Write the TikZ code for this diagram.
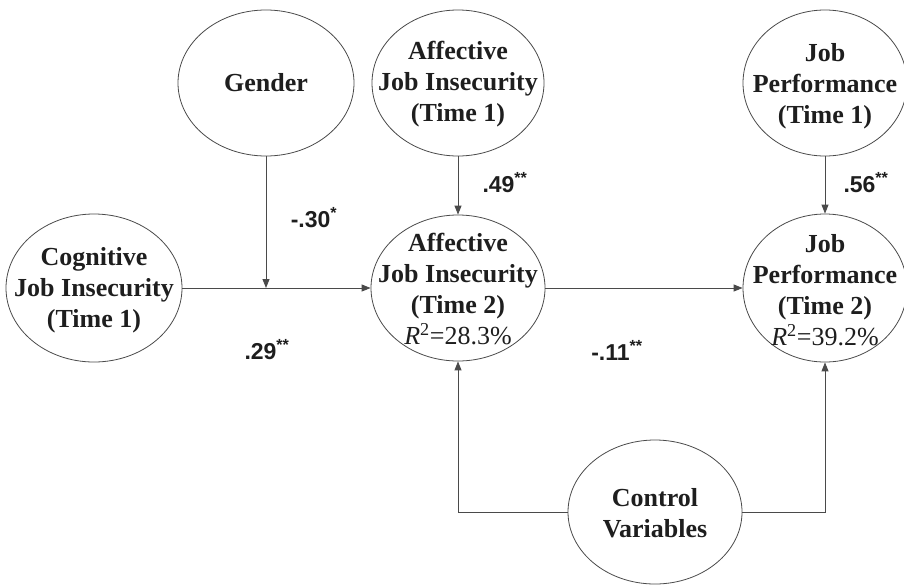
\documentclass[tikz,border=0pt]{standalone}
\usepackage{fontspec}
\setmainfont{Liberation Serif}
\setsansfont{Liberation Sans}
\usetikzlibrary{shapes.geometric,arrows.meta}
\definecolor{ink}{HTML}{1E1E1E}
\definecolor{linec}{HTML}{4A4A4A}
\tikzset{
  var/.style={draw=linec, line width=0.8pt, ellipse, inner sep=0pt},
  txt/.style={align=center, text=ink, font=\fontsize{26}{31}\selectfont\bfseries, inner sep=0pt},
  coef/.style={text=ink, font=\fontsize{23}{28}\selectfont\sffamily\bfseries, inner sep=0pt},
  arr/.style={draw=linec, line width=0.9pt, -{Triangle[length=9pt,width=7pt]}},
  plain/.style={draw=linec, line width=0.9pt}
}
\newcommand{\rsq}[1]{\mdseries\textit{R}\textsuperscript{2}=#1\%}
\begin{document}
\begin{tikzpicture}[x=1pt,y=-1pt]
\useasboundingbox (0,0) rectangle (904,584);
% ellipses
\node[var, minimum width=176pt, minimum height=146pt] (gen) at (266,83) {};
\node[var, minimum width=172pt, minimum height=146pt] (aff1) at (458,83) {};
\node[var, minimum width=164pt, minimum height=146pt] (jp1) at (825,83) {};
\node[var, minimum width=176pt, minimum height=148pt] (cog) at (94,288) {};
\node[var, minimum width=174pt, minimum height=146pt] (aff2) at (458,288) {};
\node[var, minimum width=164pt, minimum height=148pt] (jp2) at (825,288) {};
\node[var, minimum width=174pt, minimum height=144pt] (ctrl) at (655,512) {};
% texts
\node[txt] (gent) at (gen) {Gender};
\node[txt] (aff1t) at (458,84) {Affective\\Job Insecurity\\(Time 1)};
\node[txt] (jp1t) at (825,86) {Job\\Performance\\(Time 1)};
\node[txt] (cogt) at (94,290) {Cognitive\\Job Insecurity\\(Time 1)};
\node[txt] (aff2t) at (458,289) {Affective\\Job Insecurity\\(Time 2)\\\rsq{28.3}};
\node[txt] (jp2t) at (825,290) {Job\\Performance\\(Time 2)\\\rsq{39.2}};
\node[txt] (ctrlt) at (655,513) {Control\\Variables};
% connectors
\coordinate (mod) at (gen.south |- cog.east);
\draw[arr] (cog.east) -- (aff2.west);
\draw[arr] (gen.south) -- (mod);
\draw[arr] (aff1.south) -- (aff2.north);
\draw[arr] (jp1.south) -- (jp2.north);
\draw[arr] (aff2.east) -- (jp2.west);
\draw[arr] (ctrl.west) -| (aff2.south);
\draw[arr] (ctrl.east) -| (jp2.south);
% coefficients
\node[coef] (c30) at (314,218) {-.30\textsuperscript{*}};
\node[coef] (c29) at (267,350) {.29\textsuperscript{**}};
\node[coef] (c49) at (505,183) {.49\textsuperscript{**}};
\node[coef] (c11) at (617,350) {-.11\textsuperscript{**}};
\node[coef] (c56) at (866,183) {.56\textsuperscript{**}};
\end{tikzpicture}
\end{document}
